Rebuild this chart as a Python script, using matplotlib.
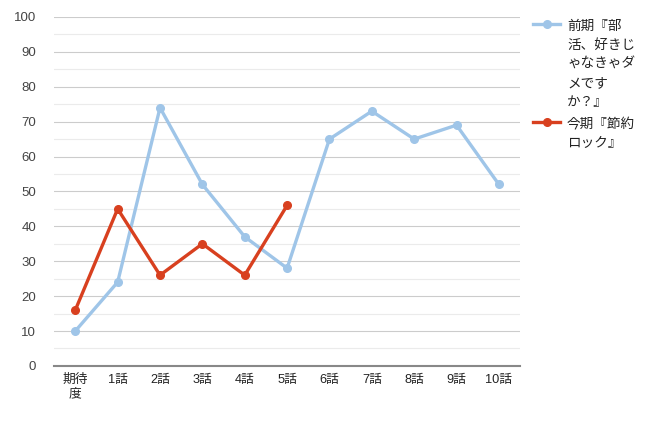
import matplotlib.pyplot as plt
from matplotlib.lines import Line2D
from matplotlib.ticker import MultipleLocator

plt.rcParams['font.family'] = ['Liberation Sans', 'Noto Sans CJK JP', 'DejaVu Sans']

# ==============================
# Data
# ==============================
categories = ["期待\n度", "1話", "2話", "3話", "4話", "5話", "6話", "7話", "8話", "9話", "10話"]
prev_label = "前期『部\n活、好きじ\nゃなきゃダ\nメです\nか？』"
curr_label = "今期『節約\nロック』"
prev_values = [10, 24, 74, 52, 37, 28, 65, 73, 65, 69, 52]
curr_values = [16, 45, 26, 35, 26, 46]

BLUE = "#9fc5e8"
RED = "#d8401f"

# ==============================
# Plot
# ==============================
fig = plt.figure(figsize=(6.6, 4.24), dpi=100)
ax = fig.add_axes([0.082, 0.137, 0.706, 0.823])

x_prev = list(range(len(prev_values)))
x_curr = list(range(len(curr_values)))
ax.plot(x_prev, prev_values, color=BLUE, lw=2.4, marker="o", ms=5.5,
        solid_capstyle="round", zorder=3)
ax.plot(x_curr, curr_values, color=RED, lw=2.4, marker="o", ms=5.5,
        solid_capstyle="round", zorder=4)

ax.set_xlim(-0.5, len(categories) - 0.5)
ax.set_ylim(0, 100)
ax.set_xticks(range(len(categories)))
ax.set_xticklabels(categories, fontsize=9.2, color="#222222", linespacing=1.25)
ax.yaxis.set_major_locator(MultipleLocator(10))
ax.yaxis.set_minor_locator(MultipleLocator(5))
ax.tick_params(axis="y", labelsize=9.5, colors="#444444", length=0, pad=13, which="both")
ax.tick_params(axis="x", length=0, pad=6)

ax.grid(axis="y", which="major", color="#cccccc", lw=0.8)
ax.grid(axis="y", which="minor", color="#ebebeb", lw=0.8)
ax.set_axisbelow(True)
for side in ["top", "right", "left"]:
    ax.spines[side].set_visible(False)
ax.spines["bottom"].set_color("#888888")
ax.spines["bottom"].set_linewidth(1.5)

# --- legend, top-aligned like the original ---
W, H = 660, 424
for label, color, y_px in [(prev_label, BLUE, 24), (curr_label, RED, 122)]:
    fy = 1 - y_px / H
    fig.add_artist(Line2D([533 / W, 560 / W], [fy, fy], color=color, lw=2.4,
                          transform=fig.transFigure))
    fig.add_artist(Line2D([546.5 / W], [fy], color=color, marker="o", ms=5.5,
                          transform=fig.transFigure))
    fig.text(567 / W, 1 - (y_px - 5) / H, label, fontsize=9.8, color="#222222",
             va="top", linespacing=1.45, transform=fig.transFigure)

fig.savefig("out.png", dpi=100)
